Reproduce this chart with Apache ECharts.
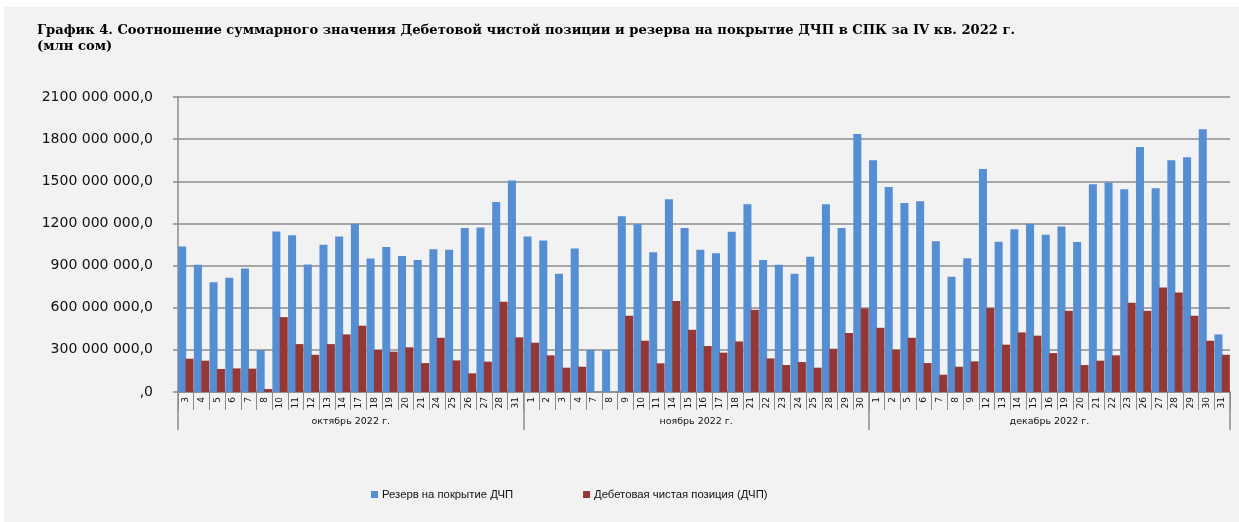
<!DOCTYPE html>
<html><head><meta charset="utf-8">
<script src="https://cdn.jsdelivr.net/npm/echarts@6/dist/echarts.min.js"></script>
<style>
html,body{margin:0;padding:0;background:#fff;}
#bg{position:absolute;left:4px;top:7px;right:0;bottom:0;background:#f2f2f2;}
#chart{position:absolute;left:0;top:0;width:1239px;height:522px;}
</style></head>
<body>
<div id="bg"></div>
<div id="chart"></div>
<script>
const titleText = 'График 4. Соотношение суммарного значения Дебетовой чистой позиции и резерва на покрытие ДЧП в СПК за IV кв. 2022 г.\n(млн сом)';
const days = ['3','4','5','6','7','8','10','11','12','13','14','17','18','19','20','21','24','25','26','27','28','31',
  '1','2','3','4','7','8','9','10','11','14','15','16','17','18','21','22','23','24','25','28','29','30',
  '1','2','5','6','7','8','9','12','13','14','15','16','19','20','21','22','23','26','27','28','29','30','31'];
const months = ['октябрь 2022 г.','ноябрь 2022 г.','декабрь 2022 г.'];
const monthStart = [0, 22, 44];
const monthLabelIdx = [11, 33, 55];
const seriesNames = ['Резерв на покрытие ДЧП','Дебетовая чистая позиция (ДЧП)'];
// values in millions (axis labels display "x 000 000,0")
const reserve = [1035,905,782,813,879,299,1142,1116,908,1048,1107,1197,950,1033,969,939,1017,1012,1168,1171,1353,1505,
  1107,1078,841,1021,299,299,1251,1194,995,1372,1168,1012,988,1140,1337,939,905,841,962,1337,1168,1837,
  1650,1460,1346,1358,1074,820,953,1588,1069,1159,1197,1119,1178,1067,1479,1491,1443,1744,1451,1650,1671,1870,410];
const debit = [237,223,164,168,166,21,533,341,265,341,410,472,299,287,318,206,386,225,133,216,642,389,
  351,261,173,180,0,0,543,365,204,647,443,327,280,360,585,239,192,213,173,308,420,595,
  457,301,386,206,123,180,218,597,337,424,401,277,578,192,223,261,635,578,744,709,543,365,265];
const yTicks = [0,300,600,900,1200,1500,1800,2100];

const chart = echarts.init(document.getElementById('chart'));
const gridColor = '#8c8c8c';
chart.setOption({
  backgroundColor: 'transparent',
  animation: false,
  title: {
    text: titleText, left: 32, top: 18,
    textStyle: {fontFamily: 'DejaVu Serif', fontWeight: 'bold', fontSize: 13.1, color: '#000', lineHeight: 16}
  },
  legend: {
    left: 366, top: 484, itemWidth: 7, itemHeight: 7, itemGap: 70, icon: 'rect',
    textStyle: {fontFamily: 'Liberation Sans', fontSize: 11.3, color: '#111', padding: [0,0,0,-1]},
    data: seriesNames
  },
  grid: {left: 178, right: 9, top: 97, bottom: 130},
  xAxis: [{
    type: 'category', data: days, position: 'bottom',
    axisLine: {show: true, lineStyle: {color: gridColor, width: 1.5}},
    axisTick: {show: true, interval: 0, length: 18, lineStyle: {color: gridColor, width: 1}},
    axisLabel: {interval: 0, rotate: 90, margin: 5, fontFamily: 'DejaVu Sans', fontSize: 9, color: '#111'}
  }, {
    type: 'category', data: days, position: 'bottom',
    axisLine: {show: false},
    axisTick: {show: true, length: 38, interval: function(i){ return monthStart.indexOf(i) >= 0; }, lineStyle: {color: gridColor, width: 1.5}},
    axisLabel: {
      interval: function(i){ return monthLabelIdx.indexOf(i) >= 0; },
      margin: 25,
      formatter: function(v, i){
        const k = monthLabelIdx.indexOf(i);
        if (k < 0) return '';
        return (k < 2 ? '{s|' : '{c|') + months[k] + '}';
      },
      rich: {
        s: {fontFamily: 'DejaVu Sans', fontSize: 9.5, color: '#111', padding: [0, 15.7, 0, 0]},
        c: {fontFamily: 'DejaVu Sans', fontSize: 9.5, color: '#111'}
      }
    }
  }],
  yAxis: {
    type: 'value', min: 0, max: 2100, interval: 300,
    axisLine: {show: true, lineStyle: {color: gridColor, width: 1.5}},
    axisTick: {show: true, length: 5, lineStyle: {color: gridColor, width: 1.5}},
    splitLine: {show: true, lineStyle: {color: gridColor, width: 1.5}},
    axisLabel: {
      margin: 25, fontFamily: 'DejaVu Sans', fontSize: 14, color: '#111',
      formatter: function(v){ return v === 0 ? ',0' : v + ' 000 000,0'; }
    }
  },
  series: [{
    name: seriesNames[0], type: 'bar', data: reserve, xAxisIndex: 0,
    itemStyle: {color: '#568ed4'}, barCategoryGap: '2%', barGap: '-8%'
  }, {
    name: seriesNames[1], type: 'bar', data: debit, xAxisIndex: 0,
    itemStyle: {color: '#953735'}
  }]
});
</script>
</body></html>
